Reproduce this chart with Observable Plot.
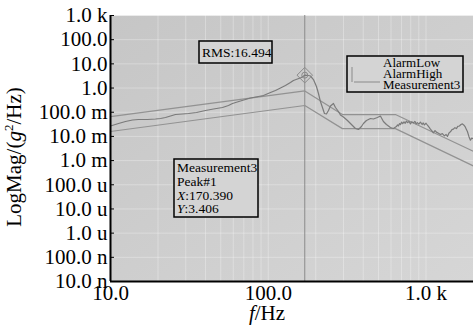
<!DOCTYPE html>
<html>
<head>
<meta charset="utf-8">
<script src="https://cdn.jsdelivr.net/npm/d3@7"></script>
<script src="https://cdn.jsdelivr.net/npm/@observablehq/plot@0.6"></script>
<style>
  html, body { margin: 0; padding: 0; background: #fff; }
  svg { display: block; }
  svg text { font-family: "Liberation Serif", "Times New Roman", serif !important; }
  svg [aria-label$="tick label"], svg [aria-label$="tick label"] text { font-size: 21px !important; }
</style>
</head>
<body>
<div id="chart"></div>
<script>
// ---- data ----
const measFreq = [10, 11.24, 12.45, 13.79, 15.05, 17.16, 19.29, 20.75, 22.31, 24.01, 25.82, 28.6, 31.21, 35.08, 39.99, 44.95, 51.27, 55.95, 59.31, 66.66, 77.14, 86.69, 93.24, 103.3, 111.1, 119.5, 128.5, 138.2, 144.4, 153.1, 162.3, 170.39, 179.8, 185.1, 193.4, 202.1, 208.1, 214.2, 220.6, 227.1, 233.8, 240.8, 247.9, 259.0, 266.7, 278.6, 286.8, 299.6, 317.7, 336.8, 356.9, 372.9, 389.6, 401.2, 419.1, 444.4, 464.3, 492.0, 514.0, 537.0, 561.1, 594.8, 621.4, 649, 660, 668, 680, 690, 700, 712, 725, 738, 751, 765, 780, 797, 812, 832, 850, 866, 882, 900, 922, 945, 960, 977, 1000, 1021, 1045, 1066, 1090, 1114, 1140, 1164, 1200, 1234, 1270, 1308, 1340, 1367, 1400, 1428, 1460, 1492, 1525, 1559, 1590, 1628, 1665, 1701, 1740, 1777, 1800, 1830, 1870, 1911, 1950, 2000];
const measMag = [0.0269, 0.0341, 0.0413, 0.0477, 0.05, 0.05, 0.0525, 0.055, 0.0605, 0.0698, 0.0805, 0.0844, 0.0885, 0.0973, 0.118, 0.136, 0.157, 0.19, 0.23, 0.291, 0.387, 0.447, 0.491, 0.654, 0.791, 1.0, 1.27, 1.69, 2.05, 2.36, 2.73, 3.406, 3.3, 3.15, 2.25, 1.16, 0.594, 0.277, 0.157, 0.0885, 0.0844, 0.118, 0.181, 0.23, 0.157, 0.107, 0.0767, 0.0634, 0.0455, 0.031, 0.0212, 0.0193, 0.0256, 0.0341, 0.0455, 0.055, 0.0525, 0.0605, 0.0698, 0.0413, 0.031, 0.0233, 0.0212, 0.0256, 0.03, 0.027, 0.034, 0.031, 0.039, 0.034, 0.04, 0.035, 0.043, 0.037, 0.042, 0.033, 0.04, 0.036, 0.042, 0.033, 0.037, 0.032, 0.039, 0.031, 0.036, 0.03, 0.035, 0.029, 0.024, 0.02, 0.017, 0.014, 0.0175, 0.015, 0.0135, 0.012, 0.013, 0.0105, 0.012, 0.01, 0.014, 0.0155, 0.019, 0.02, 0.023, 0.021, 0.026, 0.027, 0.031, 0.033, 0.029, 0.024, 0.02, 0.016, 0.01, 0.007, 0.0085, 0.008];

const alarmFreq = [10, 170.39, 295, 640, 2000];
const alarmLow  = [0.016, 0.19, 0.021, 0.021, 0.0006];
const alarmHigh = [0.066, 0.76, 0.08, 0.08, 0.0024];

const peakFreq = 170.39;
const peakMag = 3.406;
const rmsValue = "16.494";

const xTicks = [10, 100, 1000];
const xTickLabels = ["10.0", "100.0", "1.0 k"];
const xMinor = [20, 30, 40, 50, 60, 70, 80, 90, 100, 200, 300, 400, 500, 600, 700, 800, 900, 1000];
const yTicks = [1e-8, 1e-7, 1e-6, 1e-5, 1e-4, 1e-3, 1e-2, 1e-1, 1, 10, 100, 1000];
const yTickLabels = ["10.0 n", "100.0 n", "1.0 u", "10.0 u", "100.0 u", "1.0 m", "10.0 m", "100.0 m", "1.0", "10.0", "100.0", "1.0 k"];
const legendNames = ["AlarmLow", "AlarmHigh", "Measurement3"];

// ---- tables ----
const meas = measFreq.map((f, i) => ({f, v: measMag[i]}));
const low = alarmFreq.map((f, i) => ({f, v: alarmLow[i]}));
const high = alarmFreq.map((f, i) => ({f, v: alarmHigh[i]}));
const peak = [{f: peakFreq, v: peakMag}];

const FONT = "Liberation Serif, Times New Roman, serif";
const yFmt = d => yTickLabels[yTicks.findIndex(t => Math.abs(Math.log10(t) - Math.log10(d)) < 1e-6)];
const xFmt = d => xTickLabels[xTicks.findIndex(t => Math.abs(Math.log10(t) - Math.log10(d)) < 1e-6)];

const chart = Plot.plot({
  width: 473,
  height: 327,
  marginLeft: 110,
  marginRight: 0,
  marginTop: 15,
  marginBottom: 46,
  style: {fontFamily: FONT, fontSize: "21px", background: "#fff", color: "#000"},
  x: {type: "log", domain: [10, 2000], label: null},
  y: {type: "log", domain: [1e-8, 1e3], label: null},
  marks: [
    Plot.frame({fill: "url(#bggrad)", stroke: null}),
    Plot.gridX({ticks: xMinor, stroke: "#ffffff", strokeOpacity: 0.3}),
    Plot.gridY({ticks: yTicks, stroke: "#ffffff", strokeOpacity: 0.3}),
    Plot.ruleX([peakFreq], {stroke: "#8a8a8a", strokeWidth: 1}),
    Plot.line(low, {x: "f", y: "v", stroke: "#929292", strokeWidth: 1.2}),
    Plot.line(high, {x: "f", y: "v", stroke: "#929292", strokeWidth: 1.2}),
    Plot.line(meas, {x: "f", y: "v", stroke: "#7a7a7a", strokeWidth: 1.2}),
    Plot.dot(peak, {x: "f", y: "v", symbol: "diamond2", r: 7, stroke: "#8a8a8a", strokeWidth: 1, fill: "none"}),
    Plot.dot(peak, {x: "f", y: "v", r: 3, stroke: "#8a8a8a", strokeWidth: 1, fill: "none"}),
    Plot.axisY({ticks: yTicks, tickSize: 0, tickPadding: 3, tickFormat: yFmt, fontSize: 21, fontFamily: FONT, label: null}),
    Plot.axisY({ticks: yTicks, tickSize: 4, dx: 4, tickFormat: () => "", stroke: "#000", label: null}),
    Plot.axisX({ticks: xTicks, tickSize: 0, tickPadding: 4, tickFormat: xFmt, fontSize: 21, fontFamily: FONT, label: null}),
    Plot.ruleX([10], {stroke: "#000", strokeWidth: 2}),
    Plot.ruleY([1e-8], {stroke: "#000", strokeWidth: 2})
  ]
});

const svg = d3.select(chart);
const defs = svg.insert("defs", ":first-child");
const grad = defs.append("linearGradient").attr("id", "bggrad").attr("x1", "0").attr("y1", "0").attr("x2", "1").attr("y2", "1");
grad.append("stop").attr("offset", "0").attr("stop-color", "#c6c6c6");
grad.append("stop").attr("offset", "1").attr("stop-color", "#d6d6d6");

// axis titles
const yl = svg.append("text").attr("transform", "translate(21,157) rotate(-90)")
  .attr("text-anchor", "middle").attr("font-size", 21).attr("fill", "#000");
yl.append("tspan").text("LogMag/(");
yl.append("tspan").attr("font-style", "italic").text("g");
yl.append("tspan").attr("font-size", 13).attr("dy", -8).text("2");
yl.append("tspan").attr("dy", 8).text("/Hz)");

const xl = svg.append("text").attr("x", 267).attr("y", 320)
  .attr("text-anchor", "middle").attr("font-size", 21).attr("fill", "#000");
xl.append("tspan").attr("font-style", "italic").text("f");
xl.append("tspan").text("/Hz");

// annotation boxes
function box(x, y, w, h) {
  svg.append("rect").attr("x", x).attr("y", y).attr("width", w).attr("height", h)
    .attr("fill", "#d4d4d4").attr("stroke", "#000").attr("stroke-width", 1.5);
}
function label(x, y, parts, size) {
  const t = svg.append("text").attr("x", x).attr("y", y).attr("text-anchor", "start")
    .attr("font-size", size).attr("fill", "#000");
  parts.forEach(p => {
    const s = t.append("tspan").text(p.t);
    if (p.i) s.attr("font-style", "italic");
  });
}

box(199, 41, 73, 22);
label(202, 56.5, [{t: "RMS:" + rmsValue}], 13.5);

box(174, 159, 84, 58);
label(177, 172, [{t: "Measurement3"}], 13.5);
label(177, 186, [{t: "Peak#1"}], 13.5);
label(177, 199.5, [{t: "X", i: true}, {t: ":" + peakFreq.toFixed(3)}], 13.5);
label(177, 213, [{t: "Y", i: true}, {t: ":" + peakMag.toFixed(3)}], 13.5);

box(347, 56, 116, 36);
svg.append("path").attr("d", "M352,67V82M354,82H380").attr("stroke", "#8a8a8a").attr("fill", "none").attr("stroke-width", 1);
legendNames.forEach((n, i) => label(383, 67 + i * 11, [{t: n}], 13));

document.getElementById("chart").appendChild(chart);
</script>
</body>
</html>
